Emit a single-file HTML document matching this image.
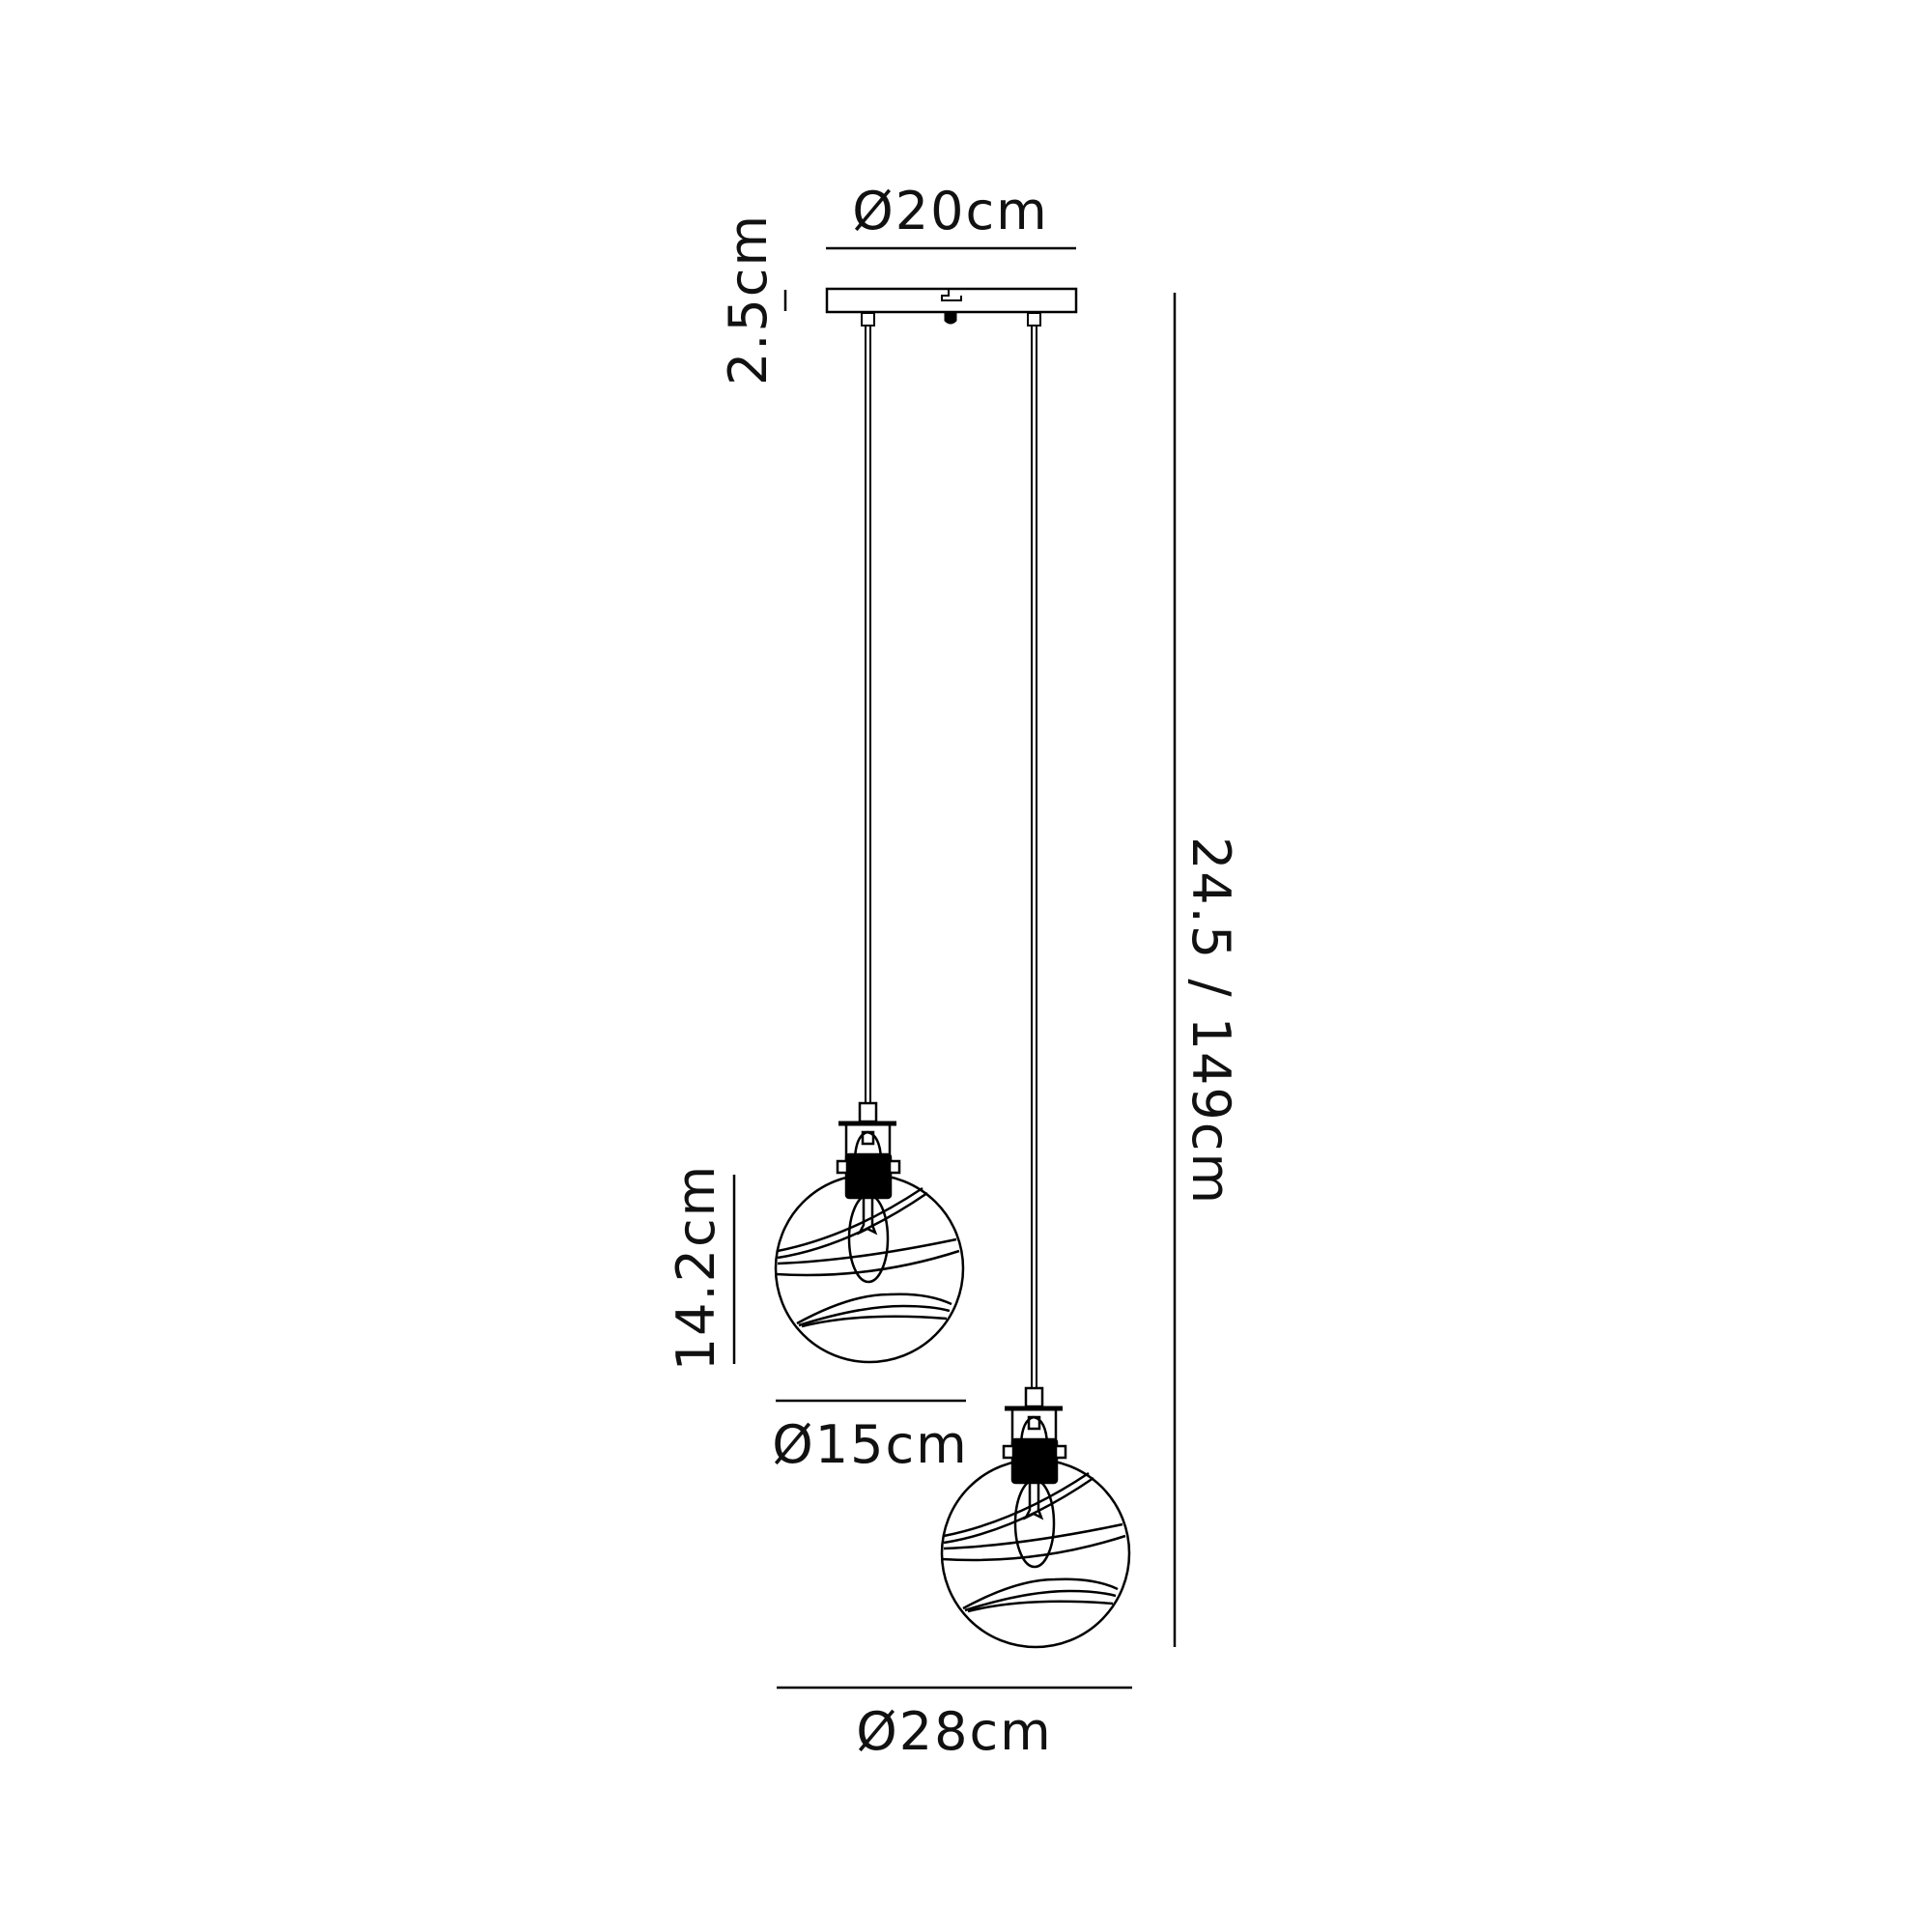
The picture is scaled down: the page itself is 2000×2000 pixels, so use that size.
<!DOCTYPE html>
<html><head><meta charset="utf-8"><style>
html,body{margin:0;padding:0;background:#fff}
svg{display:block}
text{font-family:"DejaVu Sans","Liberation Sans",sans-serif;font-size:54px;fill:#111;letter-spacing:2px}
</style></head><body>
<svg width="2000" height="2000" viewBox="0 0 2000 2000" xmlns="http://www.w3.org/2000/svg">
<defs>
<g id="lamp" fill="none" stroke="#000" stroke-width="2.5">
  <rect x="890" y="1142" width="17" height="19" fill="#fff"/>
  <line x1="868" y1="1163" x2="928" y2="1163" stroke-width="5"/>
  <line x1="876" y1="1163" x2="876" y2="1205"/>
  <line x1="921" y1="1163" x2="921" y2="1205"/>
  <path d="M885 1200 Q886 1175 898 1172 Q911 1175 912 1200"/>
  <rect x="893" y="1172" width="11" height="12"/>
  <rect x="876" y="1195" width="46" height="45" rx="3" fill="#000"/>
  <rect x="867" y="1202" width="10" height="12" fill="#fff"/>
  <rect x="921" y="1202" width="10" height="12" fill="#fff"/>
  <circle cx="900" cy="1313" r="97" fill="none"/>
  <ellipse cx="899" cy="1282" rx="20" ry="45"/>
  <path d="M894 1240 L894 1268 L890 1276 L898 1272 L906 1276 L903 1268 L903 1240"/>
  <path d="M805 1295 Q880 1280 955 1230"/>
  <path d="M805 1302 Q880 1290 960 1235"/>
  <path d="M805 1308 Q885 1305 990 1283"/>
  <path d="M803 1319 Q900 1325 993 1295"/>
  <path d="M825 1370 Q880 1340 920 1340 Q960 1338 985 1350"/>
  <path d="M827 1372 Q890 1352 935 1352 Q965 1352 983 1357"/>
  <path d="M830 1373 Q890 1358 980 1365"/>
</g>
</defs>
<g fill="none" stroke="#000">
  <line x1="855" y1="257" x2="1114" y2="257" stroke-width="2.5"/>
  <rect x="856" y="299" width="258" height="24" stroke-width="2.5"/>
  <path d="M982 299 L982 306 L975 306 L975 311 L995 311 L995 306" stroke-width="2"/>
  <path d="M978 323 L978 332 Q984 338 990 332 L990 323 Z" fill="#000"/>
  <rect x="892" y="324" width="13" height="13" stroke-width="2"/>
  <rect x="1064" y="324" width="13" height="13" stroke-width="2"/>
  <line x1="896" y1="337" x2="896" y2="1142" stroke-width="2"/>
  <line x1="901" y1="337" x2="901" y2="1142" stroke-width="2"/>
  <line x1="1068" y1="337" x2="1068" y2="1437" stroke-width="2"/>
  <line x1="1073" y1="337" x2="1073" y2="1437" stroke-width="2"/>
  <line x1="813" y1="300" x2="813" y2="322" stroke-width="2.5"/>
  <line x1="1216" y1="303" x2="1216" y2="1705" stroke-width="2.5"/>
  <line x1="760" y1="1216" x2="760" y2="1412" stroke-width="2.5"/>
  <line x1="803" y1="1450" x2="1000" y2="1450" stroke-width="2.5"/>
  <line x1="804" y1="1747" x2="1172" y2="1747" stroke-width="2.5"/>
</g>
<use href="#lamp"/>
<use href="#lamp" transform="translate(172 295)"/>
<text x="984" y="237" text-anchor="middle">Ø20cm</text>
<text x="901" y="1514" text-anchor="middle">Ø15cm</text>
<text x="988" y="1811" text-anchor="middle">Ø28cm</text>
<text transform="translate(793 310) rotate(-90)" text-anchor="middle">2.5cm</text>
<text transform="translate(739 1312) rotate(-90)" text-anchor="middle">14.2cm</text>
<text transform="translate(1235 1057) rotate(90)" text-anchor="middle">24.5 / 149cm</text>
</svg>
</body></html>
